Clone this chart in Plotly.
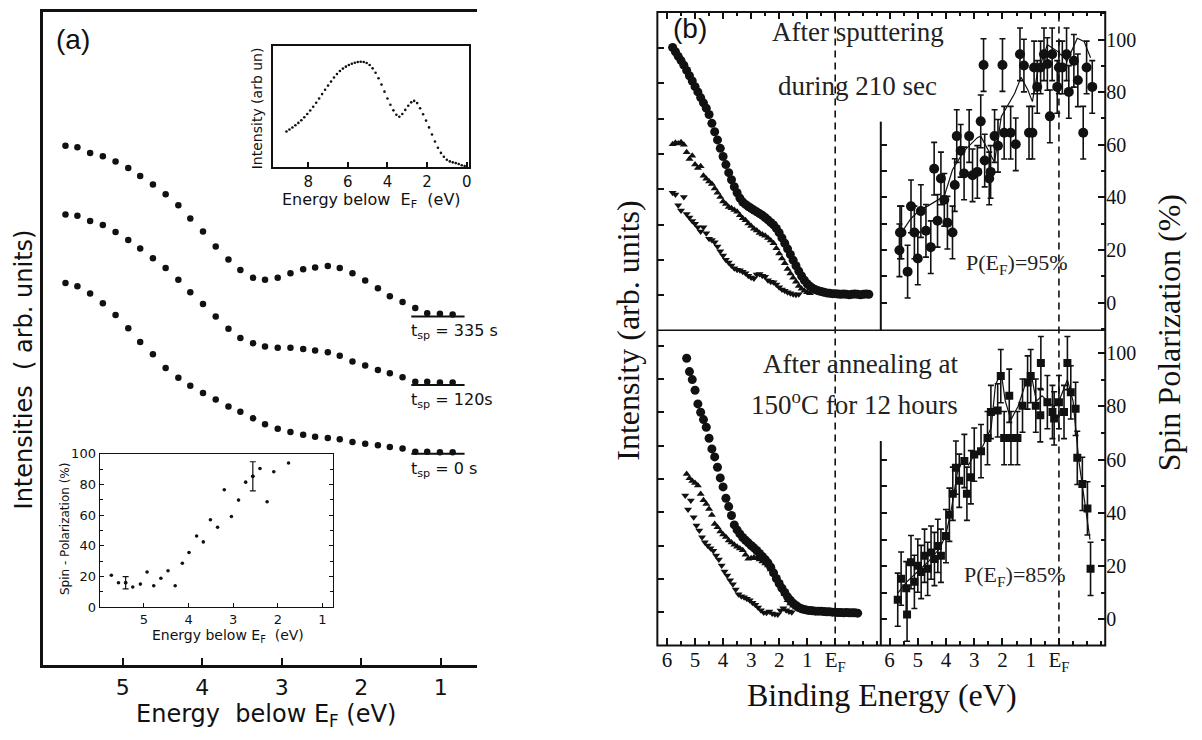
import plotly.graph_objects as go

W, H = 1202, 740


def fx(px):
    return px / W


def fy(py):
    return 1 - py / H


INK = "#111111"
SANS = "DejaVu Sans"
ARIAL = "Liberation Sans"
SERIF = "Liberation Serif"

# ---------------- panel (a): valence-band spectra after sputtering ----------------
E_a = [5.72, 5.57, 5.41, 5.25, 5.09, 4.93, 4.78, 4.62, 4.46, 4.30, 4.15, 3.99, 3.83, 3.67,
       3.52, 3.36, 3.21, 3.05, 2.89, 2.73, 2.58, 2.42, 2.27, 2.11, 1.95, 1.79, 1.64, 1.48,
       1.32, 1.17, 1.01, 0.85]
I_335 = [79.5, 79.3, 78.4, 77.9, 77.1, 76.1, 74.9, 73.6, 72.1, 70.4, 68.4, 66.4, 64.1, 62.1,
         60.5, 59.3, 59.0, 59.3, 60.0, 60.6, 60.9, 61.1, 60.8, 60.0, 58.9, 57.7, 56.5, 55.6,
         54.7, 53.9, 53.8, 53.7]
I_120 = [69.0, 68.8, 68.0, 67.4, 66.3, 65.1, 63.8, 62.3, 60.8, 59.0, 57.1, 55.3, 53.4, 51.5,
         50.1, 49.3, 48.8, 48.6, 48.6, 48.4, 48.2, 47.9, 47.4, 46.5, 45.9, 45.2, 44.7, 44.1,
         43.4, 43.4, 43.3, 43.3]
I_0 = [58.5, 58.0, 56.9, 55.4, 53.6, 51.6, 49.5, 47.6, 45.5, 44.0, 42.8, 41.7, 40.7, 39.6,
       38.8, 37.8, 36.9, 36.2, 35.7, 35.3, 35.0, 34.8, 34.6, 34.2, 33.9, 33.7, 33.4, 33.2,
       32.7, 32.7, 32.6, 32.6]
base_levels = [53.4, 42.9, 32.4]
base_E = [1.37, 0.70]
tsp_labels = ["t<sub>sp</sub> = 335 s", "t<sub>sp</sub> = 120s", "t<sub>sp</sub> = 0 s"]

# inset: full valence band
E_vb = [9.10, 8.95, 8.80, 8.65, 8.50, 8.35, 8.20, 8.05, 7.90, 7.75, 7.60, 7.45, 7.30, 7.15,
        7.00, 6.85, 6.70, 6.55, 6.40, 6.25, 6.10, 5.95, 5.80, 5.65, 5.50, 5.35, 5.20, 5.05,
        4.90, 4.75, 4.60, 4.45, 4.30, 4.15, 4.00, 3.85, 3.70, 3.55, 3.40, 3.25, 3.10, 2.95,
        2.80, 2.65, 2.50, 2.35, 2.20, 2.05, 1.90, 1.75, 1.60, 1.45, 1.30, 1.15, 1.00, 0.85,
        0.70, 0.55, 0.40, 0.25, 0.10]
I_vb = [29.2, 30.8, 32.5, 34.4, 36.3, 38.5, 40.9, 43.6, 46.5, 49.6, 52.9, 56.4, 60.0, 63.6,
        67.0, 70.3, 73.6, 76.5, 79.0, 81.0, 82.6, 84.0, 85.0, 85.8, 86.4, 86.6, 86.4, 85.6,
        83.9, 81.2, 77.6, 73.0, 67.8, 62.0, 56.4, 51.2, 46.6, 43.0, 41.4, 43.6, 47.0, 50.4,
        53.2, 54.4, 52.6, 48.4, 43.4, 38.2, 32.6, 26.8, 21.0, 15.8, 11.6, 8.4, 6.0, 4.6,
        3.8, 3.2, 2.4, 1.4, 0.8]

# inset: spin polarization
E_pol = [5.73, 5.57, 5.41, 5.25, 5.08, 4.93, 4.78, 4.62, 4.46, 4.30, 4.14, 3.99, 3.82, 3.67,
         3.51, 3.35, 3.20, 3.04, 2.88, 2.72, 2.56, 2.40, 2.24, 2.09, 1.76]
P_pol = [20.9, 16.0, 16.0, 13.2, 15.1, 23.0, 14.0, 18.9, 23.8, 14.0, 28.7, 35.7, 46.4, 42.6,
         57.0, 52.1, 76.6, 59.1, 69.8, 81.5, 85.3, 90.4, 68.7, 88.3, 94.0]
P_pol_err = [0, 0, 4.0, 0, 0, 0, 0, 0, 0, 0, 0, 0, 0, 0,
             0, 0, 0, 0, 0, 0, 9.5, 0, 0, 0, 0]

# ---------------- panel (b): spin-resolved photoemission ----------------
# after sputtering: intensities
E_sp_tot = [5.8, 5.7, 5.6, 5.5, 5.4, 5.3, 5.2, 5.1, 5.0, 4.9, 4.8, 4.7, 4.6, 4.5, 4.4, 4.3,
            4.2, 4.1, 4.0, 3.9, 3.8, 3.7, 3.6, 3.5, 3.4, 3.3, 3.2, 3.1, 3.0, 2.9, 2.8, 2.7,
            2.6, 2.5, 2.4, 2.3, 2.2, 2.1, 2.0, 1.9, 1.8, 1.7, 1.6, 1.5, 1.4, 1.3, 1.2, 1.1,
            1.0, 0.9, 0.8, 0.7, 0.6, 0.5, 0.4, 0.3, 0.2, 0.1, 0.0, -0.1, -0.2, -0.3, -0.4,
            -0.5, -0.6, -0.7, -0.8, -0.9, -1.0, -1.1, -1.2]
I_sp_tot = [8.02, 7.90, 7.77, 7.65, 7.52, 7.37, 7.22, 7.07, 6.91, 6.76, 6.60, 6.45, 6.30,
            6.12, 5.87, 5.63, 5.40, 5.16, 4.93, 4.70, 4.47, 4.27, 4.07, 3.90, 3.75, 3.64,
            3.57, 3.51, 3.46, 3.41, 3.36, 3.31, 3.26, 3.20, 3.13, 3.06, 2.99, 2.89, 2.77,
            2.62, 2.47, 2.31, 2.15, 1.99, 1.83, 1.68, 1.54, 1.42, 1.32, 1.25, 1.19, 1.15,
            1.12, 1.10, 1.08, 1.06, 1.05, 1.04, 1.04, 1.03, 1.02, 1.03, 1.02, 1.01, 1.02,
            1.03, 1.02, 1.01, 1.02, 1.03, 1.02]
E_sp_up = [5.8, 5.7, 5.6, 5.5, 5.4, 5.3, 5.2, 5.1, 5.0, 4.9, 4.8, 4.7, 4.6, 4.5, 4.4, 4.3,
           4.2, 4.1, 4.0, 3.9, 3.8, 3.7, 3.6, 3.5, 3.4, 3.3, 3.2, 3.1, 3.0, 2.9, 2.8, 2.7,
           2.6, 2.5, 2.4, 2.3, 2.2, 2.1, 2.0, 1.9, 1.8, 1.7, 1.6, 1.5, 1.4, 1.3, 1.2, 1.1,
           1.0, 0.9]
I_sp_up = [5.28, 5.32, 5.30, 5.33, 5.26, 5.05, 4.86, 4.95, 4.70, 4.60, 4.65, 4.38, 4.30,
           4.22, 4.15, 4.02, 3.90, 3.78, 3.65, 3.58, 3.50, 3.46, 3.41, 3.36, 3.26, 3.18,
           3.12, 3.03, 2.96, 2.88, 2.83, 2.76, 2.72, 2.68, 2.62, 2.55, 2.47, 2.33, 2.18,
           2.04, 1.90, 1.74, 1.61, 1.49, 1.38, 1.26, 1.18, 1.12, 1.08, 1.05]
E_sp_dn = [5.8, 5.7, 5.6, 5.5, 5.4, 5.3, 5.2, 5.1, 5.0, 4.9, 4.8, 4.7, 4.6, 4.5, 4.4, 4.3,
           4.2, 4.1, 4.0, 3.9, 3.8, 3.7, 3.6, 3.5, 3.4, 3.3, 3.2, 3.1, 3.0, 2.9, 2.8, 2.7,
           2.6, 2.5, 2.4, 2.3, 2.2, 2.1, 2.0, 1.9, 1.8, 1.7, 1.6, 1.5, 1.4, 1.3]
I_sp_dn = [3.90, 3.85, 3.55, 3.40, 3.78, 3.30, 3.20, 3.10, 3.02, 2.92, 2.80, 2.92, 2.75,
           2.60, 2.56, 2.50, 2.38, 2.24, 2.12, 2.00, 1.92, 1.84, 1.76, 1.72, 1.70, 1.66,
           1.62, 1.55, 1.50, 1.47, 1.58, 1.60, 1.55, 1.52, 1.42, 1.38, 1.36, 1.30, 1.22,
           1.16, 1.12, 1.08, 1.05, 1.02, 1.01, 1.02]

# after sputtering: polarization
E_sp_pol = [5.65, 5.63, 5.58, 5.36, 5.24, 5.12, 5.00, 4.89, 4.71, 4.54, 4.42, 4.30, 4.18,
            4.06, 3.95, 3.77, 3.69, 3.62, 3.48, 3.36, 3.18, 3.06, 2.89, 2.77, 2.67, 2.63,
            2.47, 2.42, 2.28, 2.16, 2.00, 1.94, 1.71, 1.53, 1.38, 1.24, 1.06, 0.94, 0.88,
            0.77, 0.65, 0.53, 0.41, 0.32, 0.24, 0.06, 0.00, -0.12, -0.27, -0.35, -0.53,
            -0.67, -0.86, -0.98, -1.18]
P_sp_pol = [19.9, 26.7, 26.7, 11.8, 36.6, 26.7, 16.8, 34.8, 27.3, 21.1, 50.9, 31.1, 47.2,
            39.1, 30.4, 26.7, 44.7, 63.3, 57.7, 49.1, 63.3, 48.4, 49.7, 68.9, 90.3, 54.0,
            47.2, 49.7, 63.3, 59.6, 90.3, 64.6, 64.6, 60.2, 94.4, 90.1, 64.6, 64.6, 89.4,
            82.0, 89.4, 94.4, 90.7, 70.8, 94.4, 82.0, 89.4, 89.4, 94.4, 80.1, 91.9, 84.5,
            64.6, 89.4, 82.0]
P_sp_err = 10.0
E_sp_fit = [5.65, 5.24, 4.89, 4.65, 4.06, 3.77, 3.36, 2.89, 2.77, 2.54, 2.28, 2.04, 1.57,
            1.34, 1.10, 0.94, 0.77, 0.41, 0.06, -0.29, -0.65, -0.89, -1.12]
P_sp_fit = [25.5, 32.0, 35.6, 36.7, 40.5, 50.5, 57.7, 62.7, 63.3, 58.4, 53.4, 70.8, 79.5,
            85.7, 80.8, 76.4, 86.9, 98.0, 95.6, 91.9, 100.5, 99.3, 93.1]

# after annealing: intensities
E_an_tot = [5.3, 5.2, 5.1, 5.0, 4.9, 4.8, 4.7, 4.6, 4.5, 4.4, 4.3, 4.2, 4.1, 4.0, 3.9, 3.8,
            3.7, 3.6, 3.5, 3.4, 3.3, 3.2, 3.1, 3.0, 2.9, 2.8, 2.7, 2.6, 2.5, 2.4, 2.3, 2.2,
            2.1, 2.0, 1.9, 1.8, 1.7, 1.6, 1.5, 1.4, 1.3, 1.2, 1.1, 1.0, 0.9, 0.8, 0.7, 0.6,
            0.5, 0.4, 0.3, 0.2, 0.1, 0.0, -0.1, -0.2, -0.3, -0.4, -0.5, -0.6, -0.7, -0.8]
I_an_tot = [8.62, 8.22, 7.98, 7.66, 7.25, 7.00, 6.78, 6.55, 6.22, 5.90, 5.66, 5.35, 5.03,
            4.76, 4.42, 4.17, 3.90, 3.62, 3.47, 3.35, 3.24, 3.16, 3.08, 3.00, 2.93, 2.85,
            2.76, 2.67, 2.58, 2.48, 2.35, 2.18, 2.01, 1.86, 1.72, 1.59, 1.46, 1.36, 1.27,
            1.20, 1.14, 1.10, 1.08, 1.06, 1.05, 1.04, 1.03, 1.03, 1.03, 1.02, 1.01, 1.01,
            1.00, 1.00, 0.99, 0.99, 0.98, 0.99, 0.98, 0.98, 0.98, 0.97]
E_an_up = [5.3, 5.2, 5.1, 5.0, 4.9, 4.8, 4.7, 4.6, 4.5, 4.4, 4.3, 4.2, 4.1, 4.0, 3.9, 3.8,
           3.7, 3.6, 3.5, 3.4, 3.3, 3.2, 3.1, 3.0, 2.9, 2.8, 2.7, 2.6, 2.5, 2.4, 2.3, 2.2,
           2.1, 2.0, 1.9, 1.8, 1.7, 1.6, 1.5, 1.4, 1.3, 1.2, 1.1]
I_an_up = [5.15, 5.02, 4.94, 4.88, 4.80, 4.55, 4.36, 4.25, 4.10, 3.92, 3.65, 3.55, 3.42,
           3.33, 3.26, 3.15, 3.09, 3.02, 2.96, 2.91, 2.86, 2.72, 2.60, 2.62, 2.64, 2.62,
           2.58, 2.52, 2.46, 2.40, 2.28, 2.14, 2.00, 1.85, 1.70, 1.54, 1.36, 1.26, 1.19,
           1.14, 1.10, 1.06, 1.04]
E_an_dn = [5.35, 5.25, 5.15, 5.05, 4.95, 4.85, 4.75, 4.65, 4.55, 4.45, 4.35, 4.25, 4.15,
           4.05, 3.95, 3.85, 3.75, 3.65, 3.55, 3.45, 3.35, 3.25, 3.15, 3.05, 2.95, 2.85,
           2.75, 2.65, 2.55, 2.45, 2.35, 2.25, 2.15, 2.05, 1.95, 1.85, 1.75, 1.65, 1.55]
I_an_dn = [4.50, 4.08, 4.35, 3.85, 3.60, 3.45, 3.25, 3.10, 3.00, 2.92, 2.84, 2.70, 2.58,
           2.40, 2.22, 2.10, 1.96, 1.84, 1.68, 1.54, 1.48, 1.45, 1.40, 1.36, 1.28, 1.22,
           1.14, 1.06, 0.99, 0.98, 1.02, 0.96, 0.94, 0.93, 1.05, 1.12, 1.06, 1.02, 1.00]

# after annealing: polarization
E_an_pol = [5.71, 5.59, 5.41, 5.38, 5.24, 5.12, 5.00, 4.88, 4.76, 4.65, 4.53, 4.41, 4.29,
            4.18, 4.00, 3.88, 3.76, 3.65, 3.53, 3.35, 3.26, 3.12, 3.00, 2.76, 2.53, 2.41,
            2.17, 2.06, 1.94, 1.76, 1.70, 1.47, 1.29, 1.11, 1.00, 0.82, 0.66, 0.64, 0.41,
            0.23, 0.17, 0.00, -0.18, -0.30, -0.42, -0.59, -0.65, -0.83, -1.01, -1.12]
P_an_pol = [7.4, 15.3, 11.7, 1.8, 21.5, 14.1, 20.2, 17.8, 23.9, 19.0, 25.1, 22.7, 27.6,
            23.9, 31.3, 39.3, 47.2, 57.0, 52.1, 59.5, 47.2, 53.4, 61.9, 63.2, 68.1, 77.9,
            78.5, 91.4, 68.1, 84.0, 68.1, 68.1, 80.3, 89.0, 91.4, 80.3, 76.7, 96.3, 81.6,
            77.9, 75.5, 81.6, 77.9, 96.3, 85.3, 79.1, 60.7, 50.9, 41.7, 19.0]
P_an_err = 10.0
E_an_fit = [5.7, 5.4, 5.0, 4.6, 4.2, 4.0, 3.8, 3.6, 3.4, 3.2, 3.0, 2.7, 2.4, 2.25, 2.05,
            1.9, 1.7, 1.45, 1.2, 1.0, 0.8, 0.6, 0.4, 0.2, 0.0, -0.3, -0.5, -0.7, -0.9, -1.1]
P_an_fit = [10, 14, 18, 22, 27, 32, 42, 55, 60, 58, 62, 65, 72, 88, 93, 82, 75, 80, 88,
            93, 82, 84, 82, 80, 82, 90, 82, 60, 45, 30]

fig = go.Figure()


def dots(x, y, xa, ya, size, symbol="circle"):
    fig.add_trace(go.Scatter(x=x, y=y, xaxis=xa, yaxis=ya, mode="markers",
                             marker=dict(size=size, color=INK, symbol=symbol,
                                         line=dict(width=0)),
                             showlegend=False, hoverinfo="skip"))


# panel (a) main spectra
for series in (I_335, I_120, I_0):
    dots(E_a, series, "x", "y", 6.5)
for lvl in base_levels:
    fig.add_trace(go.Scatter(x=base_E, y=[lvl, lvl], xaxis="x", yaxis="y", mode="lines",
                             line=dict(color=INK, width=2), showlegend=False,
                             hoverinfo="skip"))

# panel (a) insets
dots(E_vb, I_vb, "x2", "y2", 2.6)
dots(E_pol, P_pol, "x3", "y3", 3.6)
err_E = [e for e, s in zip(E_pol, P_pol_err) if s > 0]
err_P = [p for p, s in zip(P_pol, P_pol_err) if s > 0]
err_S = [s for s in P_pol_err if s > 0]
fig.add_trace(go.Scatter(x=err_E, y=err_P, xaxis="x3", yaxis="y3", mode="markers",
                         marker=dict(size=3.6, color=INK),
                         error_y=dict(type="data", array=err_S, color=INK, thickness=1.2,
                                      width=3),
                         showlegend=False, hoverinfo="skip"))

# panel (b) intensities
dots(E_sp_dn, I_sp_dn, "x4", "y4", 7, "triangle-down")
dots(E_sp_up, I_sp_up, "x4", "y4", 7, "triangle-up")
dots(E_sp_tot, I_sp_tot, "x4", "y4", 9)
dots(E_an_dn, I_an_dn, "x6", "y6", 7, "triangle-down")
dots(E_an_up, I_an_up, "x6", "y6", 7, "triangle-up")
dots(E_an_tot, I_an_tot, "x6", "y6", 9)

# panel (b) polarizations
fig.add_trace(go.Scatter(x=E_sp_fit, y=P_sp_fit, xaxis="x5", yaxis="y5", mode="lines",
                         line=dict(color=INK, width=1.2), showlegend=False,
                         hoverinfo="skip"))
fig.add_trace(go.Scatter(x=E_sp_pol, y=P_sp_pol, xaxis="x5", yaxis="y5", mode="markers",
                         marker=dict(size=10, color=INK),
                         error_y=dict(type="constant", value=P_sp_err, color=INK,
                                      thickness=1.6, width=3),
                         showlegend=False, hoverinfo="skip"))
fig.add_trace(go.Scatter(x=E_an_fit, y=P_an_fit, xaxis="x7", yaxis="y7", mode="lines",
                         line=dict(color=INK, width=1.2), showlegend=False,
                         hoverinfo="skip"))
fig.add_trace(go.Scatter(x=E_an_pol, y=P_an_pol, xaxis="x7", yaxis="y7", mode="markers",
                         marker=dict(size=8, color=INK, symbol="square"),
                         error_y=dict(type="constant", value=P_an_err, color=INK,
                                      thickness=1.6, width=3),
                         showlegend=False, hoverinfo="skip"))
# carriers for the inner left tick columns of the polarization frames
for xa, ya in (("x5", "y8"), ("x7", "y9")):
    fig.add_trace(go.Scatter(x=[0], y=[0], xaxis=xa, yaxis=ya, mode="markers",
                             marker=dict(size=1, opacity=0), showlegend=False,
                             hoverinfo="skip"))

# ---------------- axes ----------------
blank = dict(showgrid=False, zeroline=False)
lay = {}
lay["xaxis"] = dict(blank, domain=[fx(43), fx(478)], range=[6.004, 0.546], anchor="y",
                    tickvals=[5, 4, 3, 2, 1], ticks="inside", ticklen=8, tickwidth=2,
                    tickcolor=INK, showline=True, linewidth=2.5, linecolor=INK,
                    mirror=True, tickfont=dict(family=SANS, size=22, color=INK))
lay["yaxis"] = dict(blank, domain=[fy(672), fy(5)], range=[0, 100], anchor="x",
                    showticklabels=False, ticks="", showline=True, linewidth=2.5,
                    linecolor=INK)
lay["xaxis2"] = dict(blank, domain=[fx(273.3), fx(470)], range=[9.8, -0.11], anchor="y2",
                     tickvals=[8, 6, 4, 2, 0], ticks="inside", ticklen=5, tickwidth=1.5,
                     tickcolor=INK, showline=True, linewidth=1.5, linecolor=INK,
                     mirror=True, tickfont=dict(family=SANS, size=15, color=INK))
lay["yaxis2"] = dict(blank, domain=[fy(163.3), fy(39.3)], range=[0, 100], anchor="x2",
                     showticklabels=False, ticks="", showline=True, linewidth=1.5,
                     linecolor=INK, mirror=True)
lay["xaxis3"] = dict(blank, domain=[fx(100), fx(334)], range=[5.99, 0.76], anchor="y3",
                     tickvals=[5, 4, 3, 2, 1], ticks="inside", ticklen=4, tickwidth=1.2,
                     tickcolor=INK, showline=True, linewidth=1.4, linecolor=INK,
                     mirror=True, tickfont=dict(family=SANS, size=13, color=INK))
lay["yaxis3"] = dict(blank, domain=[fy(612.7), fy(456)], range=[0, 100], anchor="x3",
                     tickvals=[0, 20, 40, 60, 80, 100], ticks="inside", ticklen=4,
                     tickwidth=1.2, tickcolor=INK, showline=True, linewidth=1.4,
                     linecolor=INK, mirror="ticks",
                     minor=dict(dtick=10, tick0=0, ticks="inside", ticklen=3,
                                tickcolor=INK),
                     tickfont=dict(family=SANS, size=13, color=INK))

bx_common = dict(blank, ticks="inside", ticklen=7, tickwidth=1.5, tickcolor=INK,
                 tickvals=[6, 5, 4, 3, 2, 1, 0], showline=False,
                 minor=dict(dtick=0.5, tick0=0, ticks="inside", ticklen=4,
                            tickcolor=INK))
lay["xaxis4"] = dict(bx_common, domain=[fx(659), fx(883)], range=[6.345, -1.626],
                     anchor="y4", side="top", showticklabels=False)
lay["xaxis5"] = dict(bx_common, domain=[fx(883), fx(1108)], range=[6.31, -1.64],
                     anchor="y5", side="top", showticklabels=False)
lay["xaxis6"] = dict(bx_common, domain=[fx(659), fx(883)], range=[6.345, -1.626],
                     anchor="y6", ticktext=["6", "5", "4", "3", "2", "1", "E<sub>F</sub>"],
                     tickfont=dict(family=SERIF, size=21, color=INK))
lay["xaxis7"] = dict(bx_common, domain=[fx(883), fx(1108)], range=[6.31, -1.64],
                     anchor="y7", ticktext=["6", "5", "4", "3", "2", "1", "E<sub>F</sub>"],
                     tickfont=dict(family=SERIF, size=21, color=INK))

by_int = dict(blank, ticks="inside", ticklen=7, tickwidth=1.5, tickcolor=INK,
              showticklabels=False, showline=False)
lay["yaxis4"] = dict(by_int, domain=[fy(330), fy(5)], range=[0, 9.03], anchor="x4",
                     tickvals=[1, 2, 3, 4, 5, 6, 7, 8])
lay["yaxis6"] = dict(by_int, domain=[fy(651.7), fy(330)], range=[0, 9.46], anchor="x6",
                     tickvals=[1, 2, 3, 4, 5, 6, 7, 8, 9])

by_pol = dict(blank, ticks="inside", ticklen=7, tickwidth=1.5, tickcolor=INK,
              showline=False, side="right", tickvals=[0, 20, 40, 60, 80, 100],
              minor=dict(dtick=10, tick0=0, ticks="inside", ticklen=4, tickcolor=INK),
              tickfont=dict(family=SERIF, size=20, color=INK))
lay["yaxis5"] = dict(by_pol, domain=[fy(330), fy(5)], range=[-10.5, 110.5], anchor="x5")
lay["yaxis7"] = dict(by_pol, domain=[fy(651.7), fy(330)], range=[-9.8, 108.6],
                     anchor="x7")
by_inner = dict(blank, ticks="inside", ticklen=6, tickwidth=1.5, tickcolor=INK,
                showline=False, side="left", showticklabels=False,
                tickvals=[0, 10, 20, 30, 40, 50, 60])
lay["yaxis8"] = dict(by_inner, domain=[fy(330), fy(5)], range=[-10.5, 110.5],
                     anchor="x5", overlaying="y5")
lay["yaxis9"] = dict(by_inner, domain=[fy(651.7), fy(330)], range=[-9.8, 108.6],
                     anchor="x7", overlaying="y7")

# ---------------- frame lines for panel (b) ----------------
frame = dict(color=INK, width=2)
shapes = [
    dict(type="rect", xref="paper", yref="paper", x0=fx(659), x1=fx(1108),
         y0=fy(651.7), y1=fy(5), line=frame),
    dict(type="line", xref="paper", yref="paper", x0=fx(659), x1=fx(1108),
         y0=fy(330), y1=fy(330), line=dict(color=INK, width=1.5)),
    dict(type="line", xref="paper", yref="paper", x0=fx(883), x1=fx(883),
         y0=fy(330), y1=fy(117), line=frame),
    dict(type="line", xref="paper", yref="paper", x0=fx(883), x1=fx(883),
         y0=fy(651.7), y1=fy(443), line=frame),
]
for xa in ("x4", "x5"):
    shapes.append(dict(type="line", xref=xa, yref="paper", x0=0, x1=0, y0=fy(651.7),
                       y1=fy(5), line=dict(color=INK, width=1.6, dash="7px,5px")))

# ---------------- text ----------------
ann = []


def txt(x, y, text, size, family, angle=0, xanchor="center", color=INK):
    ann.append(dict(x=fx(x), y=fy(y), xref="paper", yref="paper", text=text,
                    showarrow=False, textangle=angle, xanchor=xanchor, yanchor="middle",
                    font=dict(family=family, size=size, color=color)))


txt(73, 33, "(a)", 28, ARIAL)
txt(24, 370, "Intensities  ( arb. units)", 24, SANS, angle=-90)
txt(267, 723, "Energy  below E<sub>F</sub> (eV)", 24, SANS)
txt(258, 103, "Intensity (arb un)", 14, SANS, angle=-90)
txt(372, 198, "Energy below  E<sub>F</sub>  (eV)", 16, SANS)
txt(65, 533, "Spin - Polarization (%)", 12, SANS, angle=-90)
txt(229, 642, "Energy below E<sub>F</sub>  (eV)", 14, SANS)

for lvl, label in zip(base_levels, tsp_labels):
    ann.append(dict(x=base_E[0], y=lvl, xref="x", yref="y", text=label, showarrow=False,
                    xanchor="left", yanchor="top", yshift=-3, xshift=-2,
                    font=dict(family=SANS, size=16, color=INK)))

txt(692, 22, "(b)", 28, ARIAL)
txt(860, 26, "After sputtering", 27, SERIF, color="#222222")
txt(860, 81, "during 210 sec", 27, SERIF, color="#222222")
txt(863, 364, "After annealing at", 27, SERIF, color="#222222")
txt(857, 404, "150<sup>o</sup>C for 12 hours", 27, SERIF, color="#222222")
txt(1020, 262, "P(E<sub>F</sub>)=95%", 22, SERIF, color="#222222")
txt(1018, 581, "P(E<sub>F</sub>)=85%", 22, SERIF, color="#222222")
txt(630, 330, "Intensity (arb. units)", 32, SERIF, angle=-90)
txt(1172, 333, "Spin Polarization (%)", 32, SERIF, angle=-90)
txt(884, 702, "Binding Energy (eV)", 32, SERIF)

fig.update_layout(width=W, height=H, autosize=False,
                  margin=dict(l=0, r=0, t=0, b=0, pad=0),
                  paper_bgcolor="white", plot_bgcolor="rgba(0,0,0,0)",
                  shapes=shapes, annotations=ann, **lay)

fig.write_html("out.html")
